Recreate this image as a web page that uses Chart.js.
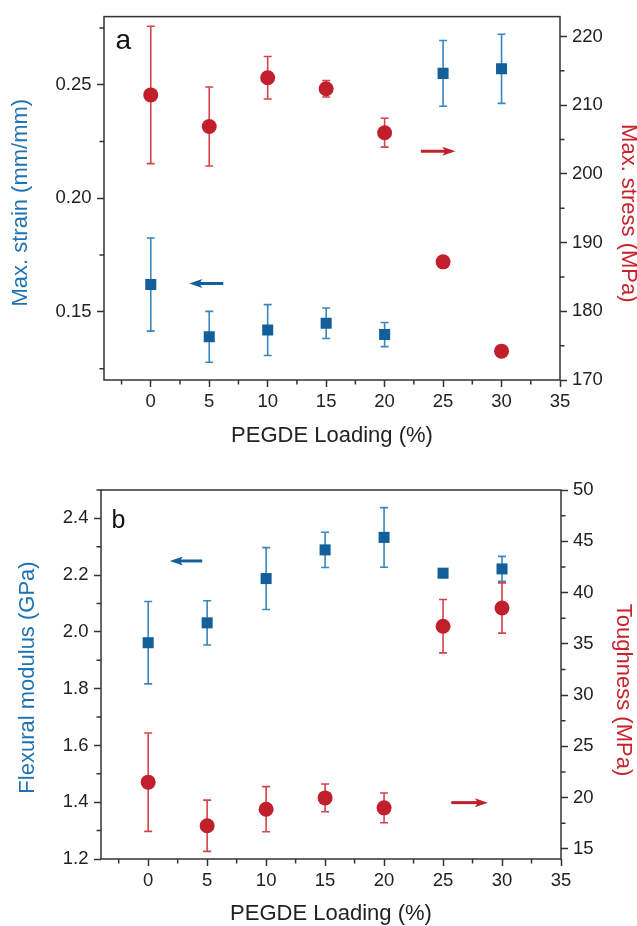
<!DOCTYPE html>
<html>
<head>
<meta charset="utf-8">
<title>PEGDE loading</title>
<script src="https://cdn.jsdelivr.net/npm/chart.js@4.4.1/dist/chart.umd.min.js"></script>
<style>
  body { margin: 0; background: #fff; }
  canvas { display: block; }
</style>
</head>
<body>
<canvas id="panelA" width="637" height="463"></canvas>
<canvas id="panelB" width="637" height="463"></canvas>
<script>
// PEGDE loading (%) for every sample
const loading = [0, 5, 10, 15, 20, 25, 30];

// panel a: tensile test
const strain = [0.162, 0.139, 0.142, 0.145, 0.140, 0.255, 0.257];
const strainErr = [0.0205, 0.0112, 0.0112, 0.0067, 0.0053, 0.0145, 0.0152];
const stress = [211.5, 206.9, 214.0, 212.4, 206.0, 187.2, 174.2];
const stressErr = [10.0, 5.75, 3.1, 1.2, 2.1, 0.6, 0.6];

// panel b: flexural test
const modulus = [1.962, 2.032, 2.188, 2.289, 2.333, 2.207, 2.222];
const modulusErr = [0.145, 0.078, 0.109, 0.062, 0.105, 0.015, 0.044];
const toughness = [21.5, 17.24, 18.86, 19.96, 18.99, 36.71, 38.49];
const toughnessErr = [4.8, 2.5, 2.2, 1.35, 1.45, 2.6, 2.45];

// tick labels
const loadingTicks = [0, 5, 10, 15, 20, 25, 30, 35];
const strainTicks = [0.15, 0.20, 0.25];
const stressTicks = [170, 180, 190, 200, 210, 220];
const modulusTicks = [1.2, 1.4, 1.6, 1.8, 2.0, 2.2, 2.4];
const toughnessTicks = [15, 20, 25, 30, 35, 40, 45, 50];

const FONT = "'Liberation Sans', Arial, sans-serif";
const AXIS = '#333';
const BLUE = '#135f9a', BLUE_BAR = '#3a86bf', BLUE_TEXT = '#1f73b3';
const RED = '#c11f2b', RED_BAR = '#d6434b', RED_TEXT = '#c8222c';

function points(ys) {
  return loading.map((x, i) => ({ x: x, y: ys[i] }));
}

// vertical error bars with caps, drawn under the markers
const errorBars = {
  id: 'errorBars',
  beforeDatasetsDraw(chart) {
    const ctx = chart.ctx;
    chart.data.datasets.forEach((ds, i) => {
      if (!ds.errors) return;
      const meta = chart.getDatasetMeta(i);
      const scale = chart.scales[ds.yAxisID];
      ctx.save();
      ctx.strokeStyle = ds.errorColor;
      ctx.lineWidth = 1.6;
      meta.data.forEach((pt, j) => {
        const v = ds.data[j].y, e = ds.errors[j];
        const top = scale.getPixelForValue(v + e);
        const bottom = scale.getPixelForValue(v - e);
        ctx.beginPath();
        ctx.moveTo(pt.x, top); ctx.lineTo(pt.x, bottom);
        ctx.moveTo(pt.x - 4, top); ctx.lineTo(pt.x + 4, top);
        ctx.moveTo(pt.x - 4, bottom); ctx.lineTo(pt.x + 4, bottom);
        ctx.stroke();
      });
      ctx.restore();
    });
  }
};

// box around the plot area plus half-step minor ticks
const frame = {
  id: 'frame',
  afterDraw(chart) {
    const ctx = chart.ctx;
    const a = chart.chartArea;
    ctx.save();
    ctx.strokeStyle = AXIS;
    ctx.lineWidth = 1.5;
    ctx.strokeRect(a.left, a.top, a.right - a.left, a.bottom - a.top);
    Object.values(chart.scales).forEach(s => {
      const majors = s.ticks.map(t => t.value);
      const step = majors[1] - majors[0];
      ctx.beginPath();
      for (let v = majors[0] - step / 2; v <= s.max + 1e-9; v += step) {
        if (v < s.min - 1e-9) continue;
        const p = s.getPixelForValue(v);
        if (s.position === 'bottom') { ctx.moveTo(p, s.top); ctx.lineTo(p, s.top + 4.5); }
        else if (s.position === 'left') { ctx.moveTo(s.right - 4.5, p); ctx.lineTo(s.right, p); }
        else { ctx.moveTo(s.left, p); ctx.lineTo(s.left + 4.5, p); }
      }
      ctx.stroke();
    });
    ctx.restore();
  }
};

// rotated y-axis titles, nudged along the axis
const sideTitles = {
  id: 'sideTitles',
  afterDraw(chart) {
    const ctx = chart.ctx;
    Object.values(chart.scales).forEach(s => {
      const t = s.options.sideTitle;
      if (!t) return;
      const left = s.position === 'left';
      const x = left ? s.left + t.offset : s.right - t.offset;
      const y = (s.top + s.bottom) / 2 + t.shift;
      ctx.save();
      ctx.translate(x, y);
      ctx.rotate(left ? -Math.PI / 2 : Math.PI / 2);
      ctx.font = '22px ' + FONT;
      ctx.fillStyle = t.color;
      ctx.textAlign = 'center';
      ctx.textBaseline = 'middle';
      ctx.fillText(t.text, 0, 0);
      ctx.restore();
    });
  }
};

// arrows telling which axis a series belongs to, placed in data units
const arrows = {
  id: 'arrows',
  afterDatasetsDraw(chart, args, opts) {
    const ctx = chart.ctx;
    const xs = chart.scales.x;
    (opts.items || []).forEach(a => {
      const ys = chart.scales[a.axis];
      const x0 = xs.getPixelForValue(a.from), x1 = xs.getPixelForValue(a.to);
      const y = ys.getPixelForValue(a.y);
      const dir = Math.sign(x1 - x0);
      ctx.save();
      ctx.strokeStyle = a.color;
      ctx.fillStyle = a.color;
      ctx.lineWidth = 3;
      ctx.beginPath();
      ctx.moveTo(x0, y);
      ctx.lineTo(x1 - dir * 8, y);
      ctx.stroke();
      ctx.beginPath();
      ctx.moveTo(x1, y);
      ctx.lineTo(x1 - dir * 13, y - 4.5);
      ctx.lineTo(x1 - dir * 10, y);
      ctx.lineTo(x1 - dir * 13, y + 4.5);
      ctx.closePath();
      ctx.fill();
      ctx.restore();
    });
  }
};

// panel letter in the top-left corner
const panelLetter = {
  id: 'panelLetter',
  afterDraw(chart, args, opts) {
    const ctx = chart.ctx;
    const a = chart.chartArea;
    ctx.save();
    ctx.font = opts.size + 'px ' + FONT;
    ctx.fillStyle = '#111';
    ctx.textBaseline = 'alphabetic';
    ctx.fillText(opts.text, a.left + opts.dx, a.top + opts.dy);
    ctx.restore();
  }
};

function fixedTicks(list) {
  return s => { s.ticks = list.map(v => ({ value: v })); };
}

function makePanel(id, p) {
  const tickFont = { family: FONT, size: 18.5 };
  const grid = { drawOnChartArea: false, drawTicks: true, tickLength: 7, tickWidth: 1.5, tickColor: AXIS };
  return new Chart(document.getElementById(id), {
    type: 'scatter',
    data: {
      datasets: [
        {
          data: points(p.left.values), errors: p.left.errors, errorColor: BLUE_BAR,
          yAxisID: 'y', pointStyle: 'rect', pointRadius: 7.8, pointHoverRadius: 7.8,
          backgroundColor: BLUE, borderWidth: 0
        },
        {
          data: points(p.right.values), errors: p.right.errors, errorColor: RED_BAR,
          yAxisID: 'y2', pointStyle: 'circle', pointRadius: 7.5, pointHoverRadius: 7.5,
          backgroundColor: RED, borderWidth: 0
        }
      ]
    },
    options: {
      responsive: false,
      animation: false,
      layout: { padding: { top: p.top, left: 0, right: 0, bottom: 0 } },
      plugins: {
        legend: { display: false },
        tooltip: { enabled: false },
        arrows: { items: p.arrows },
        panelLetter: p.letter
      },
      scales: {
        x: {
          type: 'linear', position: 'bottom', min: -4, max: 35,
          afterBuildTicks: fixedTicks(loadingTicks),
          afterFit: s => { s.height = p.xHeight; },
          grid: grid, border: { display: false },
          ticks: { font: tickFont, color: '#222', padding: 3.5, maxRotation: 0 },
          title: {
            display: true, text: 'PEGDE Loading (%)', color: '#222',
            font: { family: FONT, size: 22, lineHeight: 1 },
            padding: { top: 0, bottom: p.xTitlePad }
          }
        },
        y: {
          type: 'linear', position: 'left', min: p.left.min, max: p.left.max,
          afterBuildTicks: fixedTicks(p.left.ticks),
          afterFit: s => { s.width = p.leftWidth; },
          grid: grid, border: { display: false },
          ticks: { font: tickFont, color: '#222', padding: 5.5, callback: v => v.toFixed(p.left.digits) },
          sideTitle: { text: p.left.title, color: BLUE_TEXT, offset: p.left.titleOffset, shift: p.left.titleShift }
        },
        y2: {
          type: 'linear', position: 'right', min: p.right.min, max: p.right.max,
          afterBuildTicks: fixedTicks(p.right.ticks),
          afterFit: s => { s.width = p.rightWidth; },
          grid: grid, border: { display: false },
          ticks: { font: tickFont, color: '#222', padding: 5, callback: v => String(v) },
          sideTitle: { text: p.right.title, color: RED_TEXT, offset: p.right.titleOffset, shift: p.right.titleShift }
        }
      }
    },
    plugins: [errorBars, frame, sideTitles, arrows, panelLetter]
  });
}

makePanel('panelA', {
  top: 15, leftWidth: 104, rightWidth: 77, xHeight: 83, xTitlePad: 16.5,
  letter: { text: 'a', size: 28, dx: 11.5, dy: 32 },
  left: {
    values: strain, errors: strainErr, min: 0.12, max: 0.28, ticks: strainTicks, digits: 2,
    title: 'Max. strain (mm/mm)', titleOffset: 20.8, titleShift: 4.4
  },
  right: {
    values: stress, errors: stressErr, min: 170, max: 222.9, ticks: stressTicks,
    title: 'Max. stress (MPa)', titleOffset: 8.5, titleShift: 15
  },
  arrows: [
    { axis: 'y', from: 6.2, to: 3.3, y: 0.1625, color: BLUE },
    { axis: 'y2', from: 23.1, to: 26.05, y: 203.3, color: RED }
  ]
});

makePanel('panelB', {
  top: 27, leftWidth: 101, rightWidth: 76, xHeight: 67, xTitlePad: 1,
  letter: { text: 'b', size: 25, dx: 10.5, dy: 38 },
  left: {
    values: modulus, errors: modulusErr, min: 1.2, max: 2.5, ticks: modulusTicks, digits: 1,
    title: 'Flexural modulus (GPa)', titleOffset: 27.5, titleShift: 3
  },
  right: {
    values: toughness, errors: toughnessErr, min: 14, max: 50, ticks: toughnessTicks,
    title: 'Toughness (MPa)', titleOffset: 13.6, titleShift: 15.5
  },
  arrows: [
    { axis: 'y', from: 4.58, to: 1.84, y: 2.25, color: BLUE },
    { axis: 'y2', from: 25.7, to: 28.8, y: 19.5, color: RED }
  ]
});
</script>
</body>
</html>
